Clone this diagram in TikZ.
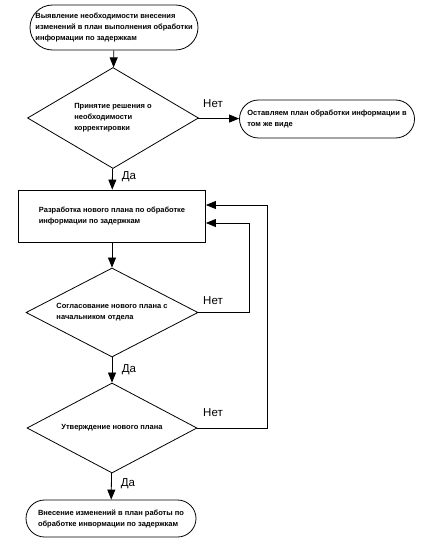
\documentclass[tikz,border=0pt]{standalone}
\usepackage{fontspec}
\setmainfont{Liberation Sans}
\usetikzlibrary{arrows.meta,shapes.geometric,shapes.misc}

\tikzset{
  boxtext/.style={font=\fontsize{7.5}{11}\selectfont\bfseries, align=left},
  term/.style={draw, rounded rectangle, line width=0.8pt, inner sep=0pt, boxtext},
  decis/.style={draw, diamond, aspect=1.7, line width=0.8pt, inner sep=0pt, boxtext},
  proc/.style={draw, rectangle, line width=0.8pt, inner sep=0pt, boxtext},
  arr/.style={-{Triangle[length=10pt,width=8pt]}, line width=0.8pt},
  ans/.style={font=\fontsize{11.5}{13}\selectfont}
}

\begin{document}
\begin{tikzpicture}[x=1pt, y=-1pt]
  \useasboundingbox (0,0) rectangle (426,548);

  % start
  \node[term, minimum width=168, minimum height=45] (start) at (114,27.5)
    {Выявление необходимости внесения\\изменений в план выполнения обработки\\информации по задержкам};

  % first decision
  \node[decis, minimum width=171, minimum height=101] (need) at (113,118)
    {Принятие решения о\\необходимости\\корректировки};
  \node[term, minimum width=175, minimum height=38] (keep) at (327,119)
    {Оставляем план обработки информации в\\том же виде};

  % new plan
  \node[proc, minimum width=187, minimum height=52] (plan) at (112,216)
    {Разработка нового плана по обработке\\информации по задержкам};

  % approvals
  \node[decis, minimum width=172, minimum height=89] (agree) at (112,312.5)
    {Согласование нового плана с\\начальником отдела};
  \node[decis, minimum width=170, minimum height=90] (confirm) at (112,428)
    {Утверждение нового плана};

  % end
  \node[term, minimum width=170, minimum height=37] (apply) at (111,518.5)
    {Внесение изменений в план работы по\\обработке инвормации по задержкам};

  % main flow
  \draw[arr] (start) -- (need);
  \draw[arr] (need) -- (keep);
  \draw[arr] (need) -- (plan);
  \draw[arr] (plan) -- (agree);
  \draw[arr] (agree) -- (confirm);
  \draw[arr] (confirm) -- (apply);

  % back to the plan
  \draw[arr] (agree.east) -- ++(51,0) |- ([yshift=-7pt]plan.east);
  \draw[arr] (confirm.east) -- ++(70,0) |- ([yshift=11pt]plan.east);

  % answers
  \node[ans] (no1) at (213,104) {Нет};
  \node[ans] (yes1) at (129,177) {Да};
  \node[ans] (no2) at (213,301) {Нет};
  \node[ans] (yes2) at (129,370) {Да};
  \node[ans] (no3) at (213,413) {Нет};
  \node[ans] (yes3) at (128,484) {Да};
\end{tikzpicture}
\end{document}
